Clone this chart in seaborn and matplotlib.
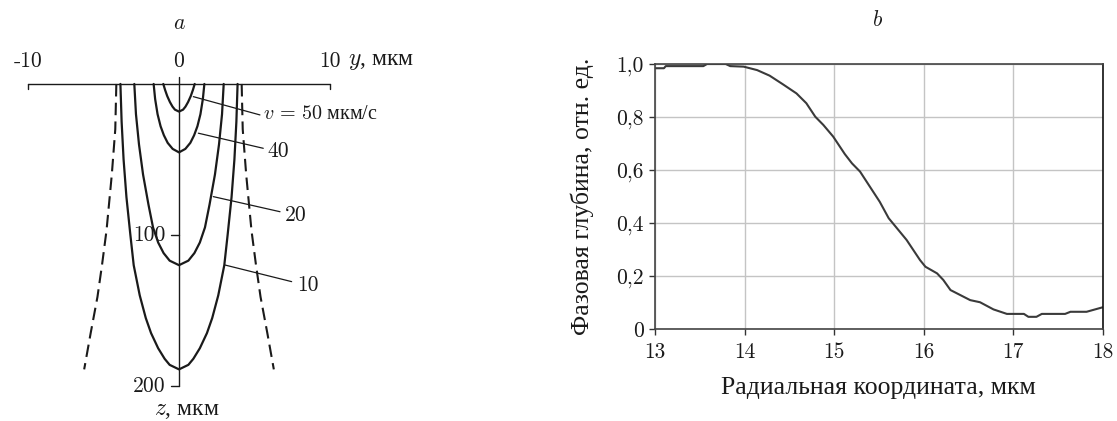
import numpy as np
import pandas as pd
import matplotlib
matplotlib.use("Agg")
import matplotlib.pyplot as plt
import seaborn as sns

# ---------------- panel a: isolines (half-width y vs depth z, mirrored) -------------
iso_labels = [r"$v\,=\,50$ мкм/с", "40", "20", "10"]
z_v50 = [0, 4, 8, 12, 15, 17, 18.3]
y_v50 = [1.04, 0.92, 0.78, 0.60, 0.43, 0.27, 0.0]
z_v40 = [0, 10, 20, 28, 34, 39, 43, 45.3]
y_v40 = [1.68, 1.58, 1.42, 1.22, 1.00, 0.75, 0.42, 0.0]
z_v20 = [0, 20, 40, 60, 80, 95, 105, 112, 117, 120]
y_v20 = [2.96, 2.85, 2.65, 2.38, 2.02, 1.72, 1.38, 1.02, 0.62, 0.0]
z_v10 = [0, 25, 50, 75, 100, 120, 140, 155, 165, 175, 182, 186, 189]
y_v10 = [3.88, 3.80, 3.67, 3.48, 3.22, 3.00, 2.60, 2.20, 1.85, 1.38, 0.95, 0.62, 0.0]
# dashed boundary
z_dash = [0, 30, 60, 97, 120, 141, 165, 189]
y_dash = [4.15, 4.22, 4.45, 4.80, 5.10, 5.40, 5.85, 6.28]

y_ticks = [-10, 0, 10]
z_ticks = [100, 200]

# ---------------- panel b ----------------
r_coord = [13.0, 13.1, 13.12, 13.54, 13.58, 13.79, 13.84, 13.99, 14.14, 14.28,
           14.43, 14.58, 14.69, 14.79, 14.88, 14.99, 15.12, 15.2, 15.29, 15.40,
           15.51, 15.61, 15.81, 15.96, 16.02, 16.15, 16.22, 16.30, 16.52, 16.63,
           16.78, 16.93, 17.12, 17.17, 17.26, 17.32, 17.58, 17.64, 17.82, 18.0]
phase_depth = [0.984, 0.984, 0.992, 0.992, 1.0, 1.0, 0.992, 0.99, 0.977, 0.956,
               0.923, 0.889, 0.852, 0.801, 0.770, 0.726, 0.660, 0.625, 0.594, 0.537,
               0.480, 0.418, 0.336, 0.260, 0.235, 0.210, 0.185, 0.147, 0.109, 0.101,
               0.074, 0.057, 0.057, 0.046, 0.046, 0.057, 0.057, 0.065, 0.065, 0.082]
x_ticks_b = [13, 14, 15, 16, 17, 18]
y_ticks_b = [0, 0.2, 0.4, 0.6, 0.8, 1.0]
y_ticklabels_b = ["0", "0,2", "0,4", "0,6", "0,8", "1,0"]

sns.set_theme(style="white")
plt.rcParams["font.family"] = ["cmr10", "Liberation Serif"]
plt.rcParams["mathtext.fontset"] = "cm"
plt.rcParams["axes.unicode_minus"] = False
plt.rcParams["axes.formatter.use_mathtext"] = True

CYR = ["Liberation Serif"]
fig = plt.figure(figsize=(11.17, 4.21), dpi=100)

# ======================= panel a =======================
axL = fig.add_axes([0.01155, 0.0473, 0.2974, 0.825])

dark = "#1a1a1a"
for zz, yy in [(z_v50, y_v50), (z_v40, y_v40), (z_v20, y_v20), (z_v10, y_v10)]:
    zz = np.asarray(zz, float)
    yy = np.asarray(yy, float)
    full_y = np.concatenate([-yy, yy[::-1][1:]])
    full_z = np.concatenate([zz, zz[::-1][1:]])
    df = pd.DataFrame({"y": full_y, "z": full_z})
    sns.lineplot(data=df, x="y", y="z", sort=False, estimator=None, color=dark,
                 lw=1.6, ax=axL)
for sgn in (-1, 1):
    df = pd.DataFrame({"y": sgn * np.asarray(y_dash), "z": z_dash})
    sns.lineplot(data=df, x="y", y="z", sort=False, estimator=None, color=dark,
                 lw=1.5, ax=axL, linestyle=(0, (6, 3)))
axL.set_xlim(-11, 11)
axL.set_ylim(210, -20)
axL.axis("off")

# axes drawn by hand
axL.plot([-10, 10], [0, 0], color=dark, lw=1.0)
for t in (-10, 10):
    axL.plot([t, t], [0, 3.3], color=dark, lw=1.0)
axL.plot([0, 0], [-4.6, 200], color=dark, lw=1.0)
for t in z_ticks:
    axL.plot([-0.55, 0], [t, t], color=dark, lw=1.0)
    axL.text(-0.9, t, str(t), ha="right", va="center", fontsize=15.5, color=dark)
for t in y_ticks:
    axL.text(t, -15.2, str(t), ha="center", va="center", fontsize=15.5, color=dark)
axL.text(11.2, -15.2, "$y$, мкм", ha="left", va="center", fontsize=17,
         color=dark, family=CYR)
axL.text(0.55, 216.5, "$z$, мкм", ha="center", va="center", fontsize=17,
         color=dark, family=CYR)
axL.text(0, -40.4, "$a$", ha="center", va="center", fontsize=15.5, color=dark)

leaders = [((0.95, 8.4), (5.36, 20.5), (5.56, 20.5)),
           ((1.28, 32.6), (5.58, 42.6), (5.89, 44.8)),
           ((2.27, 74.6), (6.69, 84.6), (7.02, 86.8)),
           ((3.05, 119.9), (7.46, 130.9), (7.81, 133.1))]
for i, (lab, (p0, p1, pt)) in enumerate(zip(iso_labels, leaders)):
    axL.plot([p0[0], p1[0]], [p0[1], p1[1]], color=dark, lw=0.9)
    if i == 0:
        axL.text(pt[0], pt[1], lab, ha="left", va="center", fontsize=14.5,
                 color=dark, family=CYR)
    else:
        axL.text(pt[0], pt[1], lab, ha="left", va="center", fontsize=15.5,
                 color=dark)

# ======================= panel b =======================
axR = fig.add_axes([0.5864, 0.2185, 0.4008, 0.6295])
sns.lineplot(x=r_coord, y=phase_depth, color="#3a3a3a", lw=1.5, ax=axR,
             estimator=None, sort=False)
axR.set_xlim(13, 18)
axR.set_ylim(0, 1)
axR.set_xticks(x_ticks_b)
axR.set_xticklabels([str(t) for t in x_ticks_b])
axR.set_yticks(y_ticks_b)
axR.set_yticklabels(y_ticklabels_b)
axR.grid(True, color="#c4c4c4", lw=1.0)
axR.set_axisbelow(True)
for s in axR.spines.values():
    s.set_visible(True)
    s.set_color("#444444")
    s.set_linewidth(1.2)
axR.spines["right"].set_color("#111111")
axR.tick_params(axis="both", direction="out", length=4, width=1.0, colors="#333333",
                labelsize=15.5, labelcolor=dark, left=True, bottom=True)
axR.tick_params(axis="x", pad=6)
axR.tick_params(axis="y", pad=4)
axR.set_xlabel("Радиальная координата, мкм", fontsize=18.5, color=dark, family=CYR)
axR.set_ylabel("Фазовая глубина, отн. ед.", fontsize=18.5, color=dark, family=CYR)
axR.xaxis.set_label_coords(0.5, -0.18)
axR.yaxis.set_label_coords(-0.136, 0.5)
fig.text(878 / 1117, 1 - 20 / 421, "$b$", ha="center", va="center", fontsize=15.5,
         color=dark)

fig.savefig("out.png", dpi=100)
